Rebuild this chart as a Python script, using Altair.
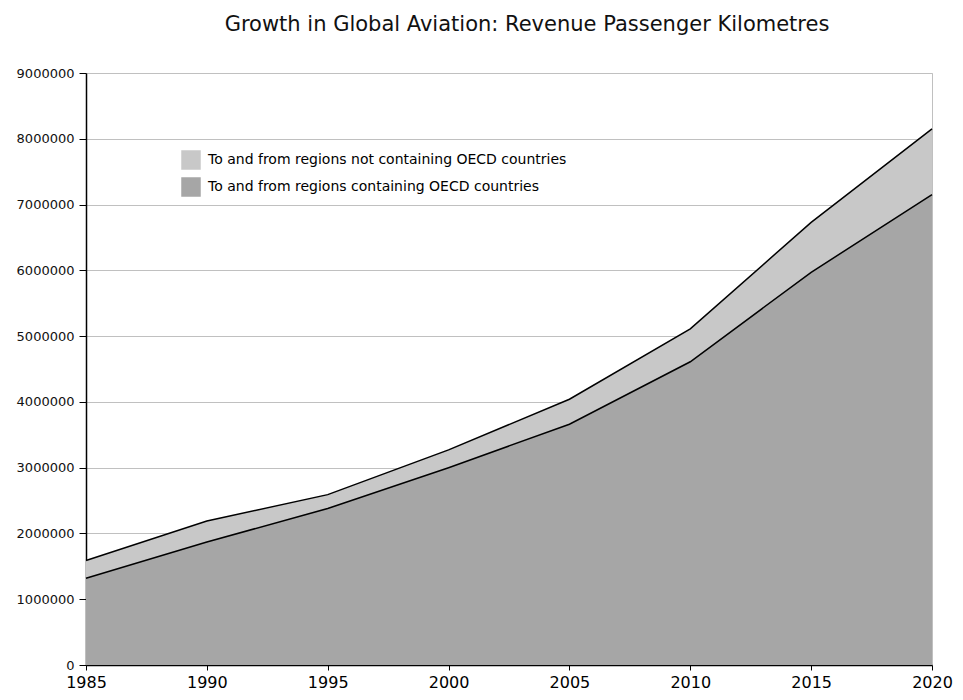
import altair as alt
import pandas as pd

years = [1985, 1990, 1995, 2000, 2005, 2010, 2015, 2020]
oecd = [1320000, 1870000, 2380000, 3000000, 3660000, 4610000, 5970000, 7150000]
non_oecd = [270000, 320000, 210000, 270000, 380000, 500000, 760000, 1000000]
series_names = [
    "To and from regions not containing OECD countries",
    "To and from regions containing OECD countries",
]
series_colors = ["#c8c8c8", "#a6a6a6"]
y_ticks = [0, 1000000, 2000000, 3000000, 4000000, 5000000, 6000000, 7000000, 8000000, 9000000]

rows = []
for y, a, b in zip(years, oecd, non_oecd):
    rows.append({"year": y, "value": a, "series": series_names[1], "ord": 0})
    rows.append({"year": y, "value": b, "series": series_names[0], "ord": 1})
df = pd.DataFrame(rows)

x_enc = alt.X("year:Q",
              scale=alt.Scale(domain=[1985, 2020], nice=False, zero=False),
              axis=alt.Axis(values=years, format="d", title=None, grid=False,
                            labelFontSize=16, labelFont="DejaVu Sans", labelColor="black",
                            domainColor="black", domainWidth=1.5, tickColor="black",
                            tickSize=5, labelPadding=4, labelFlush=False,
                            labelOverlap=False, labelBound=False))
y_enc = alt.Y("value:Q", stack="zero",
              scale=alt.Scale(domain=[0, 9000000], nice=False),
              axis=alt.Axis(values=y_ticks, format="d", title=None,
                            labelFontSize=13, labelFont="DejaVu Sans", labelColor="#111",
                            domainColor="black", domainWidth=1.5, tickColor="black",
                            tickSize=7, gridColor="#c0c0c0", labelPadding=5,
                            labelFlush=False))

base = alt.Chart(df)

areas = base.mark_area(opacity=1).encode(
    x=x_enc,
    y=y_enc,
    color=alt.Color("series:N",
                    scale=alt.Scale(domain=series_names, range=series_colors),
                    legend=alt.Legend(orient="none", legendX=95, legendY=77, title=None,
                                      symbolType="square", symbolSize=380,
                                      symbolStrokeWidth=0, symbolOpacity=1,
                                      labelFontSize=14, labelFont="DejaVu Sans",
                                      labelColor="black", labelOffset=7, rowPadding=7,
                                      labelLimit=0)),
    order=alt.Order("ord:Q"),
)

lines = base.mark_line(color="black", strokeWidth=1.5).encode(
    x=alt.X("year:Q"),
    y=alt.Y("value:Q", stack="zero"),
    detail="series:N",
    order=alt.Order("ord:Q"),
)

chart = alt.layer(areas, lines).properties(
    width=846,
    height=592,
    title=alt.TitleParams("Growth in Global Aviation: Revenue Passenger Kilometres",
                          fontSize=21, font="DejaVu Sans", fontWeight="normal",
                          color="#111", anchor="middle", offset=32, dx=18),
    autosize=alt.AutoSizeParams(type="none"),
    padding={"left": 78, "top": 65, "right": 23, "bottom": 27},
).configure_view(stroke="#c0c0c0", strokeWidth=1)

chart.save("out.html", embed_options={"renderer": "svg", "actions": False})
